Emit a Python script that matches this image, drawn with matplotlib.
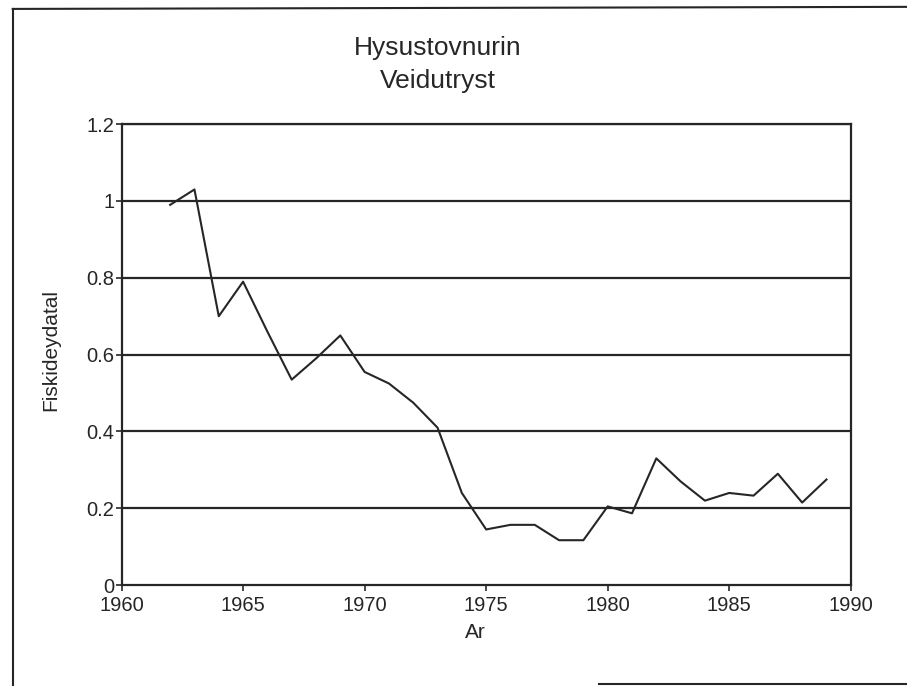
import numpy as np
import matplotlib
matplotlib.use("Agg")
import matplotlib.pyplot as plt
from matplotlib.lines import Line2D

# Fiskideydatal, hysa (Veidutryst)
years = [1962, 1963, 1964, 1965, 1966, 1967, 1968, 1969, 1970, 1971, 1972,
         1973, 1974, 1975, 1976, 1977, 1978, 1979, 1980, 1981, 1982, 1983,
         1984, 1985, 1986, 1987, 1988, 1989]
values = [0.99, 1.03, 0.70, 0.79, 0.66, 0.535, 0.59, 0.65, 0.555, 0.525, 0.475,
          0.41, 0.24, 0.145, 0.157, 0.157, 0.117, 0.117, 0.205, 0.187, 0.33, 0.27,
          0.22, 0.24, 0.233, 0.29, 0.215, 0.275]
xticks = [1960, 1965, 1970, 1975, 1980, 1985, 1990]
yticks = [0, 0.2, 0.4, 0.6, 0.8, 1.0, 1.2]
ytick_labels = ['0', '0.2', '0.4', '0.6', '0.8', '1', '1.2']

ink = '#262626'
plt.rcParams['font.family'] = ['Liberation Sans', 'DejaVu Sans']

fig = plt.figure(figsize=(9.07, 6.86), dpi=100)
ax = fig.add_axes([0.134, 0.147, 0.804, 0.672])

for y in yticks[1:]:
    ax.axhline(y, color=ink, lw=1.6, zorder=1)
ax.plot(years, values, '-', color=ink, lw=1.5, zorder=2)

ax.set_xlim(1960, 1990)
ax.set_ylim(0, 1.2)
ax.set_xticks(xticks)
ax.set_yticks(yticks)
ax.set_yticklabels(ytick_labels)
ax.tick_params(direction='out', length=4, width=1.2, color=ink, labelcolor=ink,
               labelsize=14.5)
ax.tick_params(axis='y', pad=1)
ax.tick_params(axis='x', pad=3.5)
# the "0" sits just above the 1960 label
ax.get_yticklabels()[0].set_verticalalignment('center_baseline')
for s in ax.spines.values():
    s.set_color(ink)
    s.set_linewidth(1.6)

fig.text(0.524, 0.078, 'Ar', ha='center', va='center', fontsize=15, color=ink)
fig.text(0.056, 0.49, 'Fiskideydatal', ha='center', va='center', rotation=90,
         fontsize=15, color=ink)
fig.text(0.483, 0.93, 'Hysustovnurin', ha='center', va='center', fontsize=19, color=ink)
fig.text(0.483, 0.882, 'Veidutryst', ha='center', va='center', fontsize=19, color=ink)

# page frame of the scan
fig.add_artist(Line2D([0.014, 1.0], [0.987, 0.99], transform=fig.transFigure, color=ink, lw=1.5))
fig.add_artist(Line2D([0.014, 0.014], [0.987, 0.0], transform=fig.transFigure, color=ink, lw=1.5))
fig.add_artist(Line2D([0.66, 1.0], [0.003, 0.003], transform=fig.transFigure, color=ink, lw=1.5))

fig.savefig('out.png', dpi=100)
